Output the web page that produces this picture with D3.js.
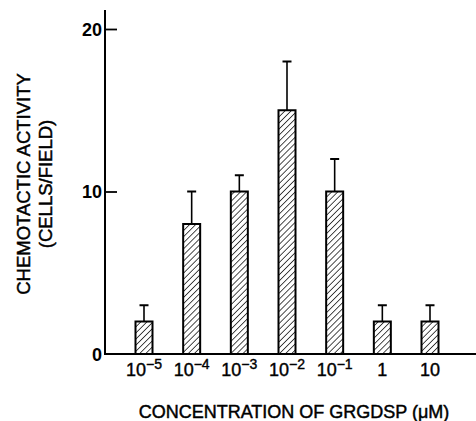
<!DOCTYPE html>
<html>
<head>
<meta charset="utf-8">
<script src="https://cdn.jsdelivr.net/npm/d3@7"></script>
<style>
  body { margin: 0; background: #fff; }
  text { font-family: "Liberation Sans", Arial, sans-serif; fill: #000; }
</style>
</head>
<body>
<svg width="476" height="421"></svg>
<script>
// data
var concBase = ["10", "10", "10", "10", "10", "1", "10"];
var concExp = ["\u22125", "\u22124", "\u22123", "\u22122", "\u22121", "", ""];
var activity = [2, 8, 10, 15, 10, 2, 2];
var errTop = [3, 10, 11, 18, 12, 3, 3];
var yTicks = [0, 10, 20];

var svg = d3.select("svg");
var cats = concBase.map(function(b, i) { return b + concExp[i]; });

var xScale = d3.scalePoint().domain(cats).range([144, 430]);
var yScale = d3.scaleLinear().domain([0, 20]).range([354, 29]);
var barW = 17;

// hatch pattern
var defs = svg.append("defs");
var pat = defs.append("pattern")
    .attr("id", "hatch")
    .attr("patternUnits", "userSpaceOnUse")
    .attr("width", 4.3).attr("height", 4.3)
    .attr("patternTransform", "rotate(45)");
pat.append("line")
    .attr("x1", 0).attr("y1", 0).attr("x2", 0).attr("y2", 4.3)
    .attr("stroke", "#000").attr("stroke-width", 1.4);

// axes
var yAxis = d3.axisRight(yScale).tickValues([10, 20]).tickSize(12).tickFormat("");
svg.append("g")
    .attr("transform", "translate(105,0)")
    .call(yAxis)
    .call(function(g) {
        g.select(".domain").remove();
        g.selectAll("line").attr("stroke", "#000").attr("stroke-width", 1.8);
    });
svg.append("line")
    .attr("x1", 105).attr("x2", 105).attr("y1", 10).attr("y2", yScale(0) + 1)
    .attr("stroke", "#000").attr("stroke-width", 2);
svg.append("line")
    .attr("x1", 104).attr("x2", 476).attr("y1", yScale(0)).attr("y2", yScale(0))
    .attr("stroke", "#000").attr("stroke-width", 2);

svg.selectAll(".ylab").data(yTicks).enter().append("text")
    .attr("class", "ylab")
    .attr("x", 102)
    .attr("y", function(d) { return yScale(d) + 6.5; })
    .attr("text-anchor", "end")
    .attr("font-size", 18)
    .attr("font-weight", "bold")
    .text(function(d) { return d; });

// error bars
svg.selectAll(".err").data(cats).enter().append("line")
    .attr("x1", function(d) { return xScale(d); })
    .attr("x2", function(d) { return xScale(d); })
    .attr("y1", function(d, i) { return yScale(activity[i]); })
    .attr("y2", function(d, i) { return yScale(errTop[i]); })
    .attr("stroke", "#000").attr("stroke-width", 1.6);
svg.selectAll(".cap").data(cats).enter().append("line")
    .attr("x1", function(d) { return xScale(d) - 4.5; })
    .attr("x2", function(d) { return xScale(d) + 4.5; })
    .attr("y1", function(d, i) { return yScale(errTop[i]); })
    .attr("y2", function(d, i) { return yScale(errTop[i]); })
    .attr("stroke", "#000").attr("stroke-width", 2);

// bars
svg.selectAll(".bar").data(cats).enter().append("rect")
    .attr("x", function(d) { return xScale(d) - barW / 2; })
    .attr("y", function(d, i) { return yScale(activity[i]); })
    .attr("width", barW)
    .attr("height", function(d, i) { return yScale(0) - yScale(activity[i]); })
    .attr("fill", "url(#hatch)")
    .attr("stroke", "#000").attr("stroke-width", 2);

// x labels
var xl = svg.selectAll(".xlab").data(cats).enter().append("text")
    .attr("x", function(d) { return xScale(d); })
    .attr("y", 376)
    .attr("text-anchor", "middle")
    .attr("font-size", 18)
    .attr("stroke", "#000").attr("stroke-width", 0.4);
xl.append("tspan").text(function(d, i) { return concBase[i]; });
xl.append("tspan")
    .attr("dy", -7)
    .attr("font-size", 14)
    .text(function(d, i) { return concExp[i]; });

// titles
svg.append("text")
    .attr("x", 294).attr("y", 418)
    .attr("text-anchor", "middle")
    .attr("font-size", 18)
    .attr("stroke", "#000").attr("stroke-width", 0.45)
    .text("CONCENTRATION OF GRGDSP (\u03bcM)");

var yt = svg.append("text")
    .attr("transform", "translate(30,184) rotate(-90)")
    .attr("text-anchor", "middle")
    .attr("font-size", 18.5)
    .attr("stroke", "#000").attr("stroke-width", 0.45);
yt.append("tspan").attr("x", 0).attr("y", 0).text("CHEMOTACTIC ACTIVITY");
yt.append("tspan").attr("x", 0).attr("y", 22).text("(CELLS/FIELD)");
</script>
</body>
</html>
